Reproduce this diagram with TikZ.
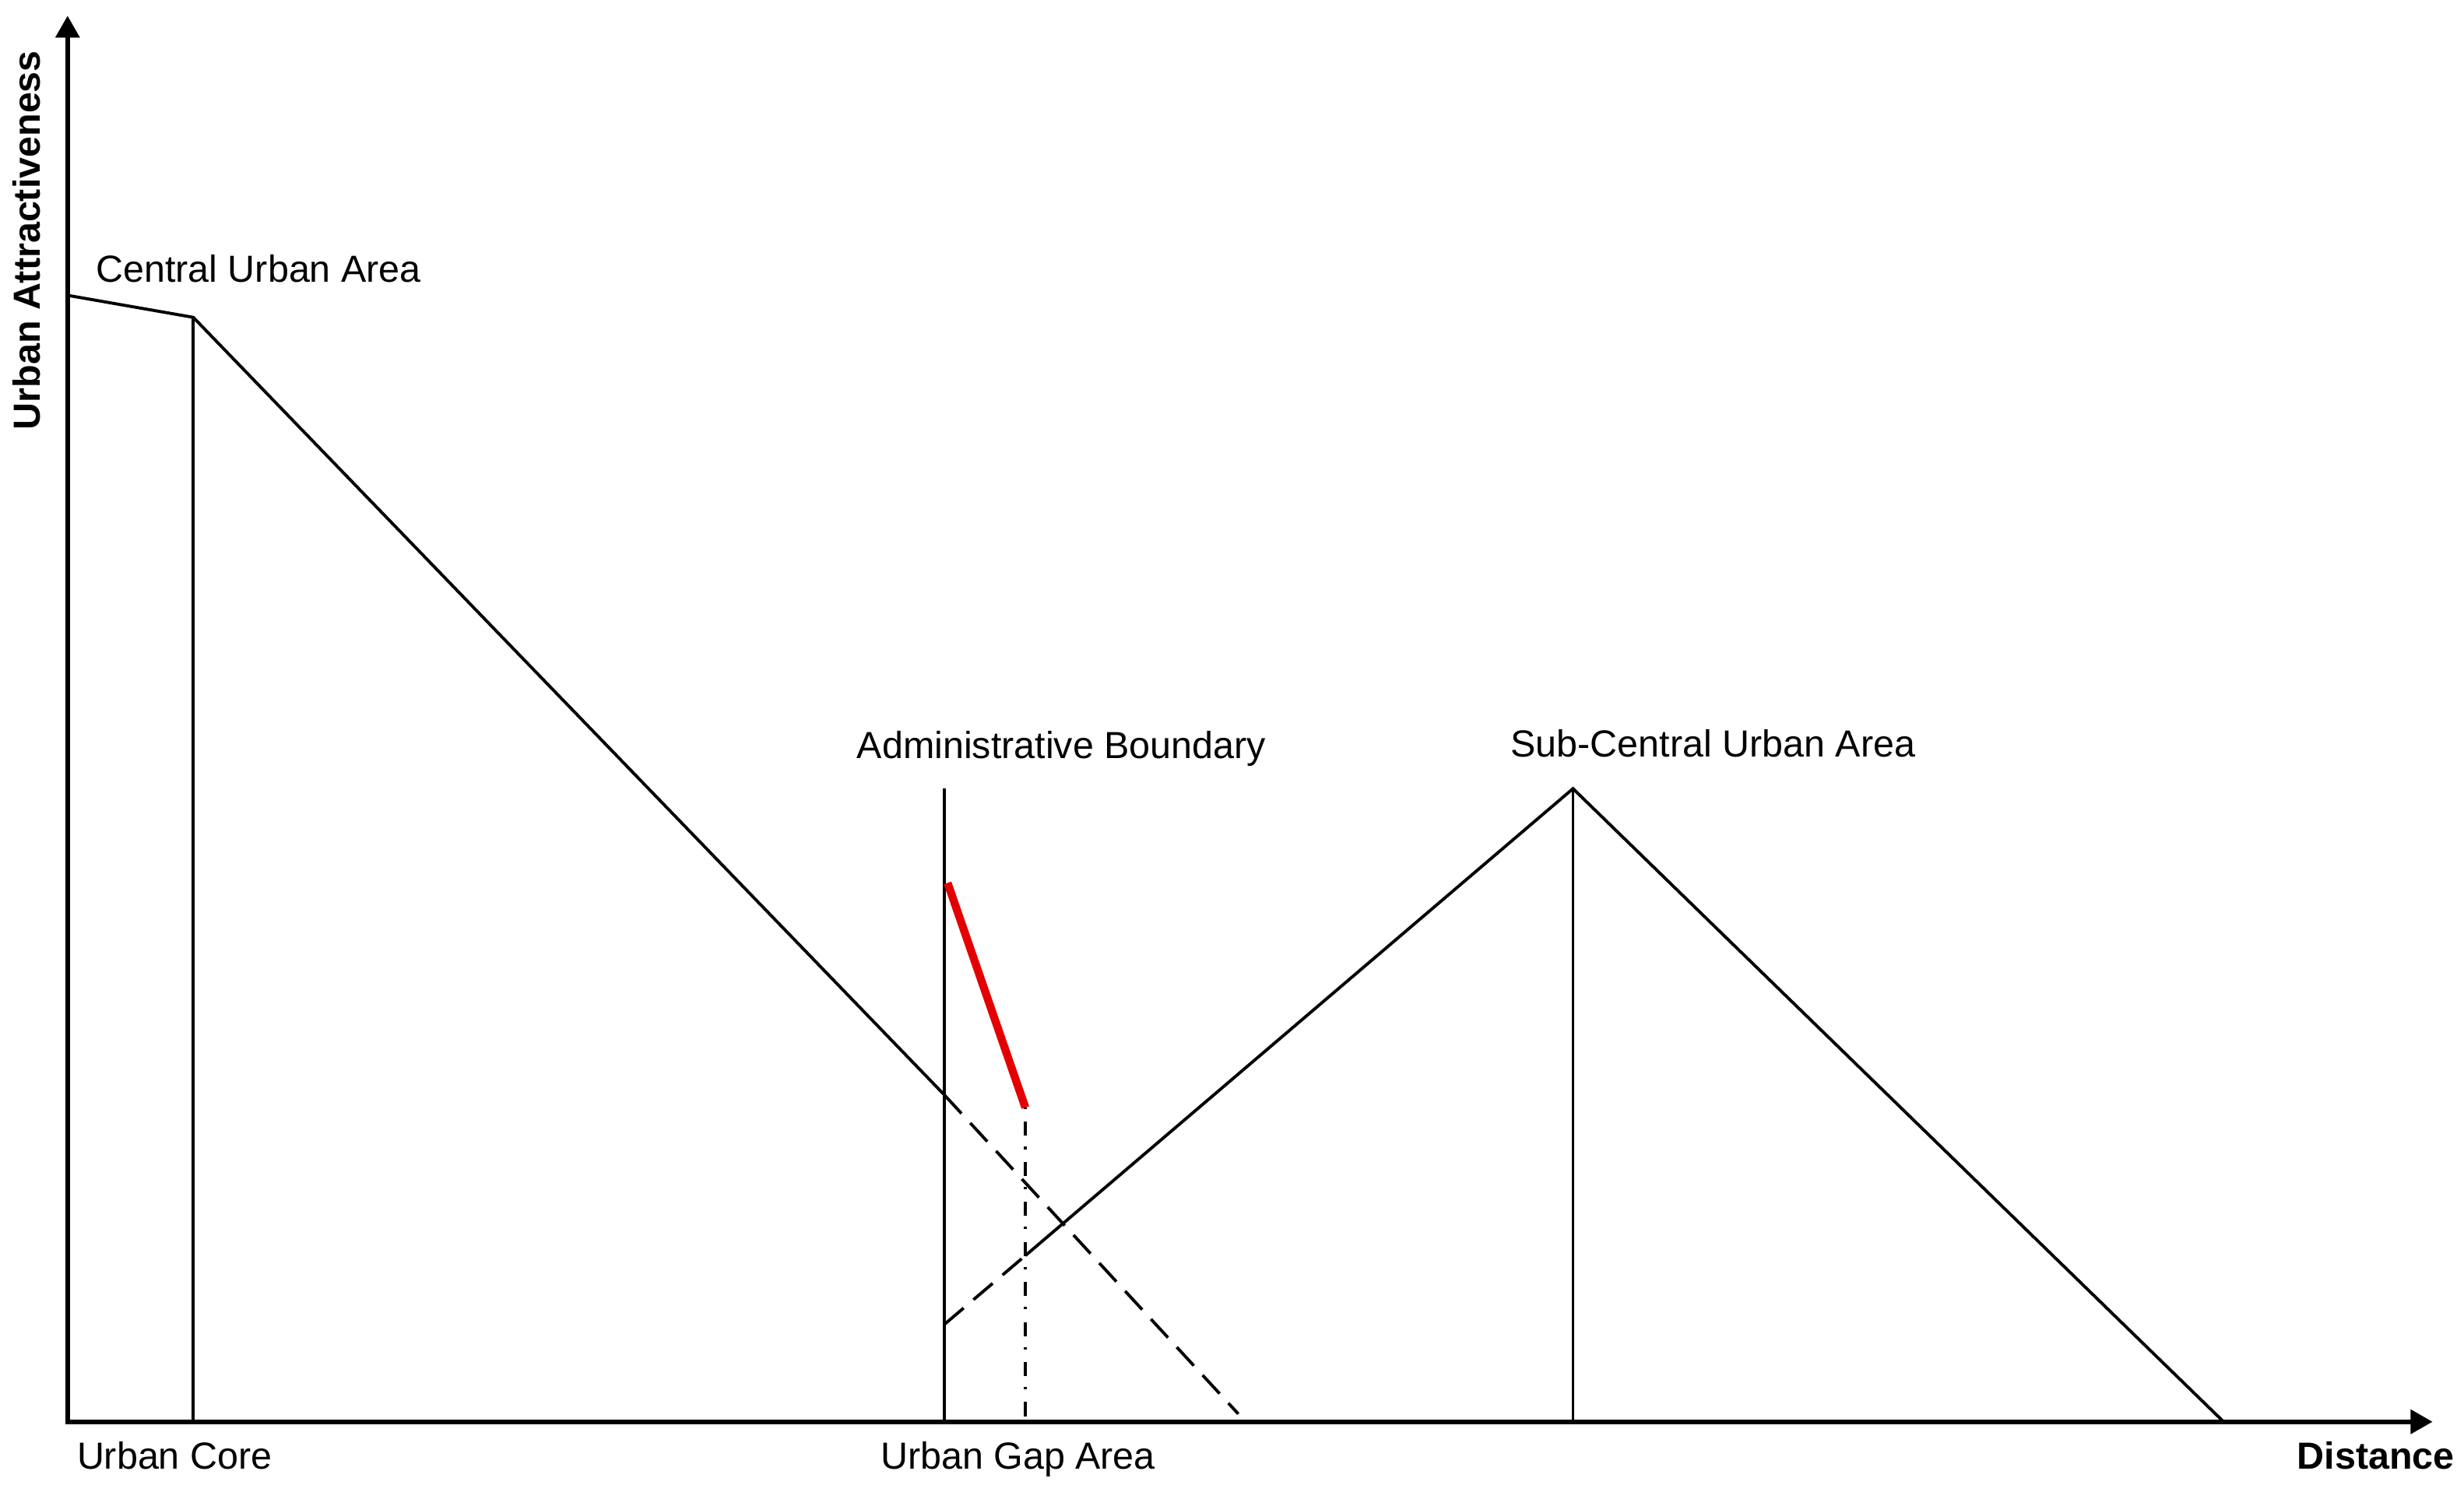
\documentclass[tikz,border=0pt]{standalone}
\usepackage{fontspec}
\setmainfont{Liberation Sans}
\usetikzlibrary{arrows.meta}
\definecolor{boundred}{RGB}{228,0,0}
\begin{document}
\begin{tikzpicture}[x=0.02cm,y=-0.02cm,
  lbl/.style={font=\fontsize{13.66pt}{16pt}\selectfont, inner sep=0pt, anchor=base west},
  axislbl/.style={inner sep=0pt, anchor=base west, font=\fontsize{13.66pt}{16pt}\selectfont\bfseries},
  axisline/.style={line width=1.7pt, line join=miter,
    {Triangle[length=0.28cm,width=0.3cm]}-{Triangle[length=0.28cm,width=0.3cm]}},
  curve/.style={line width=1.1pt},
  dashline/.style={curve, dash pattern=on 0.32cm off 0.165cm},
  dashdot/.style={curve, dash pattern=on 0.18cm off 0.14cm on 0.03cm off 0.16cm, dash phase=0.33cm},
  redline/.style={line width=2.9pt, draw=boundred}
]
\useasboundingbox (0,0) rectangle (1568,945);

% named points
\coordinate (O) at (43,905);
\coordinate (Ytop) at (43,10);
\coordinate (Xend) at (1548,905);
\coordinate (C0) at (43,188);
\coordinate (C1) at (123,202);
\coordinate (C1b) at (123,905);
\coordinate (Cx) at (601,697);
\coordinate (Cend) at (788,900);
\coordinate (Atop) at (601,502);
\coordinate (Abot) at (601,905);
\coordinate (R0) at (603,562);
\coordinate (R1) at (652.5,705);
\coordinate (Rb) at (652.5,903);
\coordinate (S0) at (601,843);
\coordinate (Sp) at (1001,502);
\coordinate (Sb) at (1001,905);
\coordinate (Send) at (1415,905);
\coordinate (S1) at (intersection of S0--Sp and R1--Rb);

% vertical markers
\draw[curve] (C1) -- (C1b);
\draw[curve] (Atop) -- (Abot);
\draw[curve] (Sp) -- (Sb);

% central urban area curve
\draw[curve, line join=miter] (C0) -- (C1) -- (Cx);
\draw[dashline] (Cx) -- (Cend);

% sub-central curve
\draw[dashline] (S0) -- (S1);
\draw[curve, line join=miter] (S1) -- (Sp) -- (Send);

% dash-dot projection and red boundary effect
\draw[dashdot] (R1) -- (Rb);
\draw[redline] (R0) -- (R1);

% axes
\draw[axisline] (Ytop) -- (O) -- (Xend);

% labels
\node[lbl] (lcentral) at (60.8,179.5) {Central Urban Area};
\node[lbl] (ladmin) at (545,483) {Administrative Boundary};
\node[lbl] (lsub) at (961,482) {Sub-Central Urban Area};
\node[lbl] (lcore) at (48.7,935) {Urban Core};
\node[lbl] (lgap) at (560,935) {Urban Gap Area};
\node[axislbl] (ldist) at (1461.5,935) {Distance};
\node[axislbl, rotate=90] (lattr) at (25.7,274) {Urban Attractiveness};
\end{tikzpicture}
\end{document}
